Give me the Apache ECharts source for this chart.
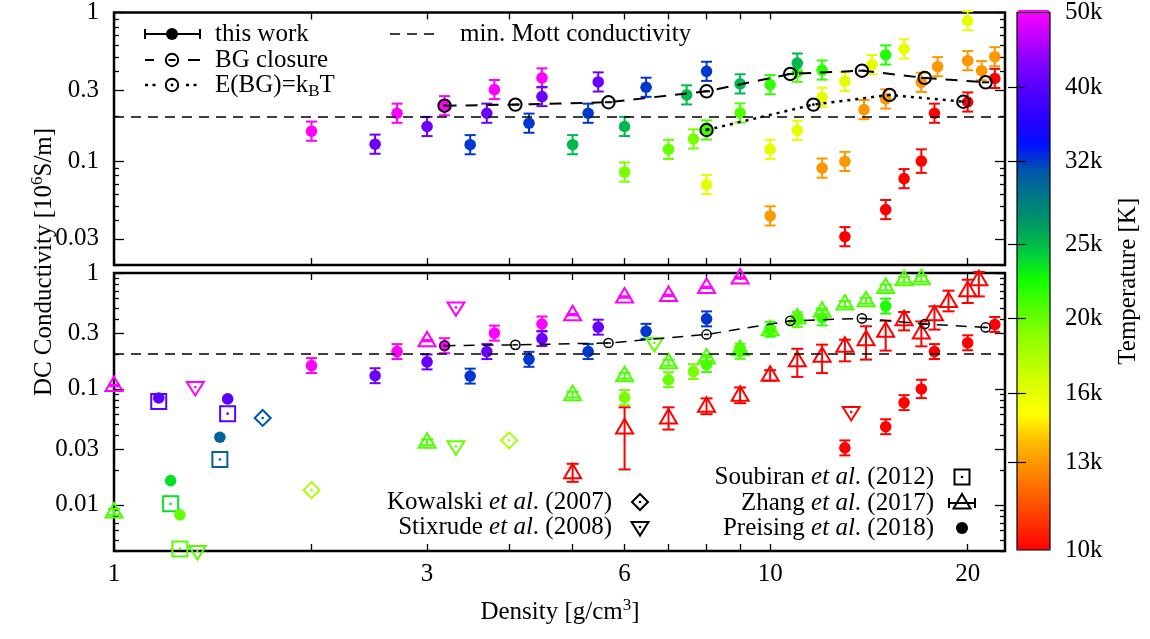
<!DOCTYPE html>
<html><head><meta charset="utf-8">
<script src="https://cdn.jsdelivr.net/npm/echarts@6/dist/echarts.min.js"></script>
<style>html,body{margin:0;padding:0;background:#fff}#c{width:1150px;height:639px}</style>
</head><body><div id="c"></div><script>
// ---------------- data ----------------
// "this work": [density g/cm3, sigma 1e6 S/m, T (K), relative error]
const thisWorkBoth = [
 [2.0,0.159,50000,0.16],[2.7,0.21,50000,0.16],[3.19,0.236,50000,0.16],[3.8,0.303,50000,0.16],[4.49,0.363,50000,0.16],
 [2.5,0.13,41000,0.16],[3.0,0.171,41000,0.16],[3.7,0.21,41000,0.16],[4.49,0.272,41000,0.16],[5.47,0.341,41000,0.16],
 [3.49,0.129,32000,0.16],[4.29,0.18,32000,0.16],[5.28,0.21,32000,0.16],[6.47,0.314,32000,0.16],[8.0,0.402,32000,0.16],
 [6.0,0.0844,19500,0.16],[7.0,0.12,20000,0.16],[7.64,0.141,19500,0.16],[8.0,0.162,21000,0.16],[9.0,0.211,20500,0.16],
 [10.0,0.327,21500,0.16],[11.0,0.396,20500,0.16],[12.0,0.41,21500,0.16],[15.0,0.518,22000,0.16],
 [13.0,0.031,10000,0.16],[15.0,0.0472,10000,0.16],[16.0,0.0762,10000,0.16],[17.0,0.1,10000,0.2],[17.8,0.21,10000,0.16],
 [20.0,0.25,10000,0.16],[22.0,0.36,10000,0.16]
];
const thisWorkTopOnly = [
 [5.0,0.129,25000,0.16],[6.0,0.171,25000,0.16],[7.46,0.279,25000,0.16],[9.0,0.331,25000,0.16],[11.0,0.457,25000,0.16],
 [8.0,0.0695,16000,0.16],[10.0,0.12,16000,0.16],[11.0,0.161,16000,0.16],[12.0,0.269,16000,0.16],[13.0,0.344,16000,0.16],
 [14.3,0.446,16000,0.16],[16.0,0.568,16000,0.16],[20.0,0.88,16000,0.16],
 [10.0,0.0428,13000,0.16],[12.0,0.0897,13000,0.16],[13.0,0.0995,13000,0.16],[13.9,0.222,13000,0.16],[15.0,0.262,13000,0.16],
 [17.0,0.339,13000,0.16],[18.0,0.432,13000,0.16],[20.0,0.474,13000,0.16],[21.0,0.406,13000,0.16],[22.0,0.504,13000,0.16]
];
const bgClosure = [[3.19,0.236],[4.09,0.24],[5.67,0.249],[8.0,0.295],[10.73,0.386],[13.8,0.406],[17.2,0.363],[21.3,0.339]];
const eBGkT = [[8.0,0.162],[11.64,0.24],[15.2,0.279],[19.7,0.251]];
const eBGkTIsolated = [[3.19,0.236]];
const mottMin = 0.2;
// literature: [density, sigma, T]
const soubiran2012 = [[1.17,0.078,40000],[1.49,0.0612,40000],[1.45,0.0246,30000],[1.22,0.0102,23500],[1.26,0.00417,20500]];
const preising2018 = [[1.17,0.0836,40000],[1.49,0.082,40000],[1.45,0.0383,30000],[1.22,0.0162,23500],[1.26,0.0082,20000]];
const kowalski2007 = [[1.685,0.0562,31000],[2.0,0.0134,18000],[4.0,0.036,18000]];
const stixrude2008 = [[1.33,0.104,50000],[1.34,0.004,20500],[3.32,0.505,50000],[3.32,0.032,20000],[6.66,0.249,20000],[13.29,0.0633,10000]];
// Zhang 2017: [density, sigma] (small rel. errors) and 10k with [density, sigma, low, high]
const zhang50k = [[1.0,0.107],[3.0,0.261],[5.0,0.437],[6.0,0.621],[7.0,0.641],[8.0,0.751],[9.0,0.906]];
const zhang50kErr = 0.015;
const zhang20k = [[1.0,0.0087],[3.0,0.0347],[5.0,0.0893],[6.0,0.13],[7.0,0.168],[8.0,0.185],[9.0,0.218],[10.0,0.324],
 [11.0,0.409],[12.0,0.467],[13.0,0.541],[14.0,0.577],[15.0,0.751],[16.0,0.875],[17.0,0.893]];
const zhang20kErr = 0.06;
const zhang20kT = 20800;
const zhang10k = [[5.0,0.0189,0.0158,0.0226],[6.0,0.0461,0.0202,0.0694],[7.0,0.0562,0.0446,0.0694],[8.0,0.0708,0.0606,0.0828],
 [9.0,0.0881,0.0754,0.103],[10.0,0.131,0.118,0.145],[11.0,0.175,0.127,0.222],[12.0,0.191,0.137,0.241],[13.0,0.233,0.173,0.266],
 [14.0,0.266,0.179,0.347],[15.0,0.314,0.214,0.388],[16.0,0.396,0.32,0.461],[17.0,0.304,0.233,0.382],[17.8,0.437,0.325,0.516],
 [18.7,0.569,0.467,0.704],[20.0,0.704,0.551,0.875],[20.8,0.875,0.628,1.02]];
// ticks
const xTicks = [1,2,3,4,5,6,7,8,9,10,20];
const xLabels = [1,3,6,10,20];
const yMajorTop = [0.03,0.1,0.3,1];
const yMinorTop = [0.02,0.04,0.05,0.06,0.07,0.08,0.09,0.2,0.4,0.5,0.6,0.7,0.8,0.9];
const yMajorBot = [0.01,0.03,0.1,0.3,1];
const yMinorBot = [0.004,0.005,0.006,0.007,0.008,0.009,0.02,0.04,0.05,0.06,0.07,0.08,0.09,0.2,0.4,0.5,0.6,0.7,0.8,0.9];
const cbLabels = [10000,13000,16000,20000,25000,32000,40000,50000];
const cbTicks = [13000,16000,20000,25000,32000,40000];
const xRange = [1, 22.8], yRangeTop = [0.02, 1], yRangeBot = [0.004, 1], tRange = [10000, 50000];

// ---------------- style ----------------
const F = 'Liberation Serif';
const palette = ['#ff0000','#ff3200','#ff5f00','#ff8c00','#ffbb00','#ffff00','#e0ff00','#b4ff00','#88ff00','#50ff00',
 '#10ff00','#00cc40','#009c60','#007a82','#0058a8','#0010ff','#2a00ff','#5200ff','#8000ff','#c000ff','#ff00ff'];
const L = Math.log10;
const labelRich = {t:{fontFamily:F, fontSize:25, color:'#000'}};

const ln = (x1,y1,x2,y2,c,w,dash) => ({type:'line', shape:{x1,y1,x2,y2}, style:{stroke:c, lineWidth:w, lineDash:dash||null}});
const dot = (x,y,r,c) => ({type:'circle', shape:{cx:x,cy:y,r}, style:{fill:c}});
const ring = (x,y,r,c,w) => ({type:'circle', shape:{cx:x,cy:y,r}, style:{fill:'none', stroke:c, lineWidth:w}});
const poly = (pts,c,w) => ({type:'polygon', shape:{points:pts}, style:{fill:'none', stroke:c, lineWidth:w}});
function symbolEls(kind, x, y, c) {
  switch (kind) {
    case 'disc': return [dot(x,y,5.8,c)];
    case 'square': return [{type:'rect', shape:{x:x-7.5,y:y-7.5,width:15,height:15}, style:{fill:'none',stroke:c,lineWidth:2}}, dot(x,y,1.3,c)];
    case 'diamond': return [poly([[x,y-8],[x+8,y],[x,y+8],[x-8,y]],c,2), dot(x,y,1.3,c)];
    case 'tridown': return [poly([[x-8.5,y-5],[x+8.5,y-5],[x,y+8.5]],c,2), dot(x,y,1.3,c)];
    case 'triup': return [poly([[x-8.5,y+5.5],[x+8.5,y+5.5],[x,y-9]],c,2)];
    case 'bg': return [ring(x,y,6.2,c,2), ln(x-3.5,y,x+3.5,y,c,2)];
    case 'bgS': return [ring(x,y,4.6,c,1.5), ln(x-2.5,y,x+2.5,y,c,1.5)];
    case 'ebg': return [ring(x,y,6.2,c,2), dot(x,y,1.4,c)];
    case 'ebgS': return [ring(x,y,4.6,c,1.5), dot(x,y,1.2,c)];
  }
  return [];
}
function makeRender(kind, err, cap) {
  return function (params, api) {
    const x = api.value(0), y = api.value(1);
    const p = api.coord([x, y]);
    const c = api.visual('color');
    const ch = [];
    if (err) {
      const lo = api.coord([x, api.value(3)]), hi = api.coord([x, api.value(4)]);
      ch.push(ln(p[0],lo[1],p[0],hi[1],c,2), ln(p[0]-cap,lo[1],p[0]+cap,lo[1],c,2), ln(p[0]-cap,hi[1],p[0]+cap,hi[1],c,2));
    }
    ch.push(...symbolEls(kind, p[0], p[1], c));
    return {type:'group', children: ch};
  };
}
const twData = arr => arr.map(p => [p[0], p[1], L(p[2]), p[1]/(1+p[3]), p[1]*(1+p[3])]);
const litData = arr => arr.map(p => [p[0], p[1], L(p[2])]);
const zhangData = []
  .concat(zhang50k.map(p => [p[0], p[1], L(50000), p[1]/(1+zhang50kErr), p[1]*(1+zhang50kErr)]))
  .concat(zhang20k.map(p => [p[0], p[1], L(zhang20kT), p[1]/(1+zhang20kErr), p[1]*(1+zhang20kErr)]))
  .concat(zhang10k.map(p => [p[0], p[1], L(10000), p[2], p[3]]));

function custom(xi, yi, data, kind, err, cap, color) {
  return {type:'custom', xAxisIndex:xi, yAxisIndex:yi, data, encode:{x:0, y:1}, clip:false, silent:true,
    itemStyle: color ? {color} : undefined, renderItem: makeRender(kind, err, cap)};
}
const fmtNum = v => '{t|' + String(+(+v).toPrecision(4)) + '}';
function axX(grid, pos, labels) {
  return {type:'log', gridIndex:grid, position:pos, min:xRange[0], max:xRange[1],
    axisLine:{show:false, onZero:false}, splitLine:{show:false},
    axisTick:{show:true, inside:true, length:7, customValues:xTicks, lineStyle:{color:'#000', width:1.3}},
    axisLabel: labels ? {show:true, customValues:xLabels, formatter:fmtNum, rich:labelRich, margin:11, fontFamily:F, fontSize:25, color:'#000'} : {show:false}};
}
function axY(grid, pos, range, ticks, len, labels) {
  return {type:'log', gridIndex:grid, position:pos, min:range[0], max:range[1],
    axisLine:{show:false, onZero:false}, splitLine:{show:false},
    axisTick:{show:true, inside:true, length:len, customValues:ticks, lineStyle:{color:'#000', width:1.3}},
    axisLabel: labels ? {show:true, customValues:labels, formatter:fmtNum, rich:labelRich, margin:15, fontFamily:F, fontSize:25, color:'#000'} : {show:false}};
}
const mottLine = {silent:true, symbol:['none','none'], label:{show:false}, lineStyle:{color:'#000', width:1.5, type:[10,7]}, data:[{yAxis: mottMin}]};
const txt = (x, y, text, align, extra) => Object.assign({type:'text', x, y, silent:true, style:{text, align:align||'left', verticalAlign:'middle',
  fontFamily:F, fontSize:25, fill:'#000',
  rich:{n:{fontFamily:F, fontSize:25}, i:{fontFamily:F, fontSize:25, fontStyle:'italic'},
        a:{fontFamily:F, fontSize:25, lineHeight:30}, s:{fontFamily:F, fontSize:17, lineHeight:14, verticalAlign:'top'},
        b:{fontFamily:F, fontSize:17, lineHeight:16, verticalAlign:'bottom'}}}}, extra||{});

const graphic = [
  // y title
  txt(44, 262, '{a|DC Conductivity [10}{s|6}{a|S/m]}', 'center', {rotation: Math.PI/2}),
  // x title
  txt(560, 612, '{a|Density [g/cm}{s|3}{a|]}', 'center'),
  // top legend
  ln(145,34,200,34,'#000',2), ln(145,29,145,39,'#000',2), ln(200,29,200,39,'#000',2), dot(172,34,6,'#000'),
  txt(215, 34, 'this work'),
  ln(145,60,154,60,'#000',2), ln(188,60,200,60,'#000',2), ...symbolEls('bg',172,60,'#000'),
  txt(215, 60, 'BG closure'),
  ln(145,85,159,85,'#000',2.5,[3,4.5]), ln(186,85,198,85,'#000',2.5,[3,4.5]), ...symbolEls('ebg',172,85,'#000'),
  txt(215, 85, '{a|E(BG)=k}{b|B}{a|T}'),
  ln(390,34,440,34,'#000',1.5,[10,7]),
  txt(460, 34, 'min. Mott conductivity'),
  // bottom legend
  txt(612, 502, '{n|Kowalski }{i|et al}{n|. (2007)}', 'right'), ...symbolEls('diamond',640,502,'#000'),
  txt(612, 527, '{n|Stixrude }{i|et al}{n|. (2008)}', 'right'), ...symbolEls('tridown',640,527,'#000'),
  txt(934, 477, '{n|Soubiran }{i|et al}{n|. (2012)}', 'right'), ...symbolEls('square',962,477,'#000'),
  txt(934, 503, '{n|Zhang }{i|et al}{n|. (2017)}', 'right'), ...symbolEls('triup',962,503,'#000'),
  ln(949,503,975,503,'#000',2), ln(949,498,949,508,'#000',2), ln(975,498,975,508,'#000',2),
  txt(934, 528, '{n|Preising }{i|et al}{n|. (2018)}', 'right'), dot(962,528,6,'#000')
];

const option = {
  animation: false,
  textStyle: {fontFamily: F},
  grid: [
    {left:114, top:12, width:891, height:253, show:true, borderColor:'#000', borderWidth:2.5, backgroundColor:'transparent'},
    {left:114, top:273, width:891, height:278, show:true, borderColor:'#000', borderWidth:2.5, backgroundColor:'transparent'},
    {left:1017, top:10, width:33, height:540, show:true, borderColor:'#000', borderWidth:1.2, backgroundColor:'transparent', z:10}
  ],
  xAxis: [
    axX(0,'bottom',false), axX(0,'top',false), axX(1,'bottom',true), axX(1,'top',false),
    {type:'value', gridIndex:2, min:0, max:1, show:false}
  ],
  yAxis: [
    axY(0,'left',yRangeTop,yMajorTop,10,yMajorTop), axY(0,'left',yRangeTop,yMinorTop,5,null),
    axY(0,'right',yRangeTop,yMajorTop,10,null), axY(0,'right',yRangeTop,yMinorTop,5,null),
    axY(1,'left',yRangeBot,yMajorBot,10,yMajorBot), axY(1,'left',yRangeBot,yMinorBot,5,null),
    axY(1,'right',yRangeBot,yMajorBot,10,null), axY(1,'right',yRangeBot,yMinorBot,5,null),
    {type:'log', gridIndex:2, position:'right', min:tRange[0], max:tRange[1], z:11,
      axisLine:{show:false}, splitLine:{show:false},
      axisTick:{show:true, inside:true, length:9, customValues:cbTicks, lineStyle:{color:'#000', width:1.2}},
      axisLabel:{show:true, customValues:cbLabels, formatter:v => '{t|' + Math.round(v/1000) + 'k}', rich:labelRich,
        margin:15, fontFamily:F, fontSize:25, color:'#000'},
      name:'Temperature [K]', nameLocation:'middle', nameRotate:90, nameGap:66,
      nameTextStyle:{fontFamily:F, fontSize:25, color:'#000'}},
    {type:'log', gridIndex:2, position:'left', min:tRange[0], max:tRange[1], z:11,
      axisLine:{show:false}, splitLine:{show:false}, axisLabel:{show:false},
      axisTick:{show:true, inside:true, length:9, customValues:cbTicks, lineStyle:{color:'#000', width:1.2}}}
  ],
  visualMap: {type:'continuous', min:L(tRange[0]), max:L(tRange[1]), dimension:2,
    seriesIndex:[2,6,7,8,9,10,11], inRange:{color:palette}, orient:'vertical',
    left:1017, top:10, itemWidth:33, itemHeight:540, padding:0, calculable:false, z:4},
  series: [
    {type:'line', xAxisIndex:0, yAxisIndex:0, data:bgClosure, symbol:'none', silent:true,
      lineStyle:{color:'#000', width:2, type:[12,9]}, markLine:mottLine},
    {type:'line', xAxisIndex:0, yAxisIndex:0, data:eBGkT, symbol:'none', silent:true,
      lineStyle:{color:'#000', width:2.5, type:[3,5]}},
    custom(0,0,twData(thisWorkBoth.concat(thisWorkTopOnly)),'disc',true,5.5),
    custom(0,0,bgClosure.slice(1),'bg',false,0,'#000'),
    custom(0,0,eBGkTIsolated.concat(eBGkT),'ebg',false,0,'#000'),
    {type:'line', xAxisIndex:2, yAxisIndex:4, data:bgClosure, symbol:'none', silent:true,
      lineStyle:{color:'#000', width:1.5, type:[11,8]}, markLine:mottLine},
    custom(2,4,twData(thisWorkBoth),'disc',true,5.5),
    custom(2,4,litData(soubiran2012),'square',false,0),
    custom(2,4,litData(preising2018),'disc',false,0),
    custom(2,4,litData(kowalski2007),'diamond',false,0),
    custom(2,4,litData(stixrude2008),'tridown',false,0),
    custom(2,4,zhangData,'triup',true,6),
    custom(2,4,bgClosure.slice(1),'bgS',false,0,'#000'),
    custom(2,4,eBGkTIsolated,'ebgS',false,0,'#000')
  ],
  graphic: graphic
};
const chart = echarts.init(document.getElementById('c'), null, {renderer:'canvas'});
chart.setOption(option);
</script></body></html>
